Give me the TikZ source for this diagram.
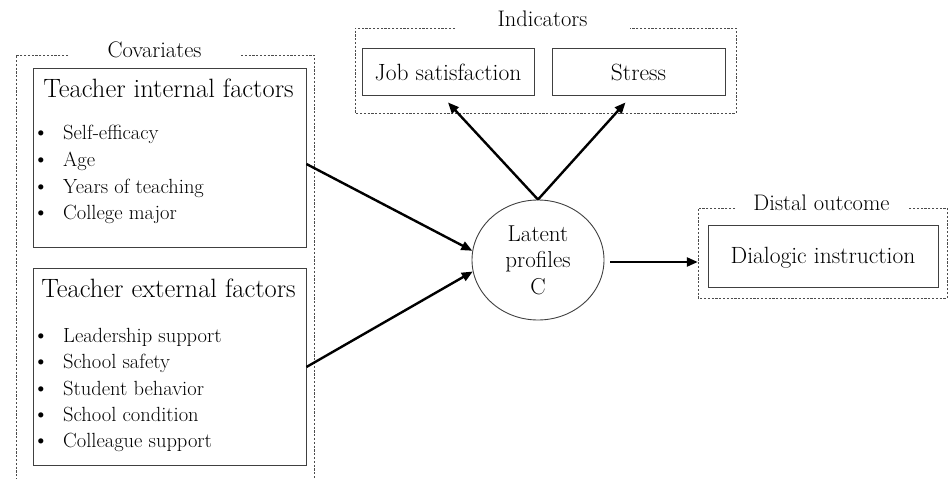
\documentclass[tikz,border=0pt]{standalone}
\usetikzlibrary{arrows.meta,shapes.geometric,calc}
\begin{document}
\begin{tikzpicture}[x=1pt,y=-1pt,
  box/.style={draw=black!75,line width=0.9pt,rectangle,inner sep=0pt},
  ghost/.style={rectangle,inner sep=0pt},
  dbox/.style={draw=black!70,line width=0.9pt,dash pattern=on 2.2pt off 1.6pt},
  arr/.style={line width=2.4pt,-{Triangle[length=11pt,width=9pt]}},
  ttl/.style={font=\fontsize{26.5}{30}\selectfont,anchor=base,inner sep=0pt},
  itm/.style={font=\fontsize{20.5}{24}\selectfont,anchor=base west,inner sep=0pt},
  bul/.style={font=\fontsize{23}{26}\selectfont,anchor=base,inner sep=0pt},
  grp/.style={font=\fontsize{22.5}{26}\selectfont,anchor=base,inner sep=0pt},
  lbl/.style={font=\fontsize{23.5}{27}\selectfont,anchor=base,inner sep=0pt}]
\useasboundingbox (0,0) rectangle (948,479);

% ---- Covariates group ----
\draw[dbox] (68,55) -- (16,55) -- (16,479);
\draw[dbox] (241,55) -- (314,55) -- (314,479);
\node[grp] (covt) at (154.5,57) {Covariates};

\node[box,minimum width=273pt,minimum height=179pt] (int) at (169.5,157.5) {};
\node[ttl] (intt) at (168.5,97) {Teacher internal factors};
\foreach \t/\y [count=\i] in {Self-efficacy/139,Age/166,Years of teaching/193,College major/219}{
  \node[bul] (ib\i) at (41,\y) {\textbullet};
  \node[itm] (ii\i) at (63,\y) {\t};
}

\node[box,minimum width=273pt,minimum height=197pt] (ext) at (169.5,366.5) {};
\node[ttl] (extt) at (168.5,297) {Teacher external factors};
\foreach \t/\y [count=\i] in {Leadership support/342,School safety/368,Student behavior/395,School condition/421,Colleague support/447}{
  \node[bul] (eb\i) at (41,\y) {\textbullet};
  \node[itm] (ei\i) at (63,\y) {\t};
}

% ---- Indicators group ----
\draw[dbox] (455,28) -- (355,28) -- (355,113) -- (736,113) -- (736,28) -- (630,28);
\node[grp] (indt) at (542.5,27) {Indicators};
\node[box,minimum width=172pt,minimum height=47pt] (job) at (448,71.5) {};
\node[lbl] (jobt) at (448,80) {Job satisfaction};
\node[box,minimum width=173pt,minimum height=47pt] (str) at (638.5,71.5) {};
\node[lbl] (strt) at (638.5,80) {Stress};

% ---- Latent profiles ----
\node[ellipse,draw=black!75,line width=0.9pt,minimum width=132pt,minimum height=120pt,
  inner sep=0pt,align=center,font=\fontsize{23}{26.5}\selectfont] (lp) at (538,260)
  {Latent\\profiles\\C};

% ---- Distal outcome ----
\node[ghost,minimum width=249pt,minimum height=90pt] (dist) at (822.5,253) {};
\draw[dbox] (735,208) -- (698,208) -- (698,298) -- (947,298) -- (947,208) -- (908,208);
\node[grp] (distt) at (821.5,210) {Distal outcome};
\node[box,minimum width=230pt,minimum height=62pt] (dia) at (823,256) {};
\node[lbl] (diat) at (823,263) {Dialogic instruction};

% ---- connectors ----
\draw[arr] ($(int.east)+(0,6.5)$) -- (lp.172);
\draw[arr] ($(ext.east)+(0,0.5)$) -- (lp.190);
\draw[arr] (lp.north) -- ([yshift=-7pt]job.south);
\draw[arr] (lp.north) -- ([xshift=-13pt,yshift=-7pt]str.south);
\draw[arr] ([xshift=6pt,yshift=-2pt]lp.east) -- ([yshift=-9pt]dist.west);
\end{tikzpicture}
\end{document}
